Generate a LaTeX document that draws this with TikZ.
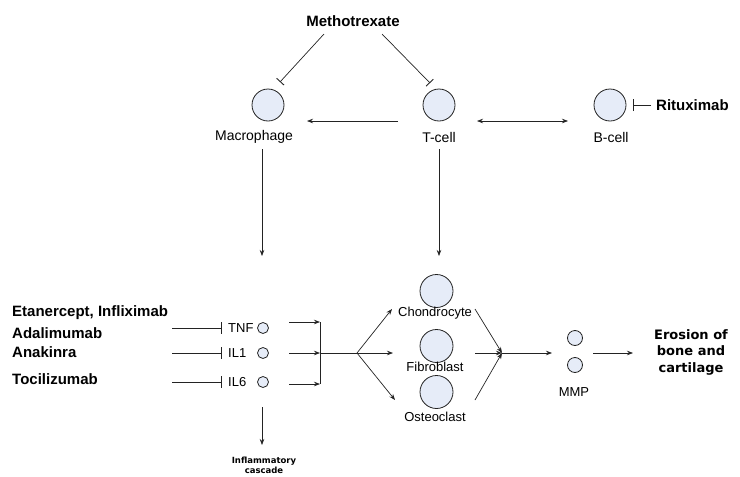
\documentclass[tikz,border=0pt]{standalone}
\usepackage{fontspec}
\setmainfont{Liberation Sans}
\newfontfamily\verdfont{DejaVu Sans}
\usetikzlibrary{arrows.meta}

\definecolor{cellfill}{RGB}{230,236,248}
\definecolor{lineclr}{RGB}{35,35,35}

\tikzset{
  cell/.style={circle,draw=lineclr,fill=cellfill,line width=0.8pt,minimum size=32pt,inner sep=0pt},
  midcell/.style={cell,minimum size=15pt},
  tinycell/.style={cell,minimum size=11pt},
  lbl/.style={inner sep=0pt,font=\fontsize{14}{16}\selectfont},
  lbllow/.style={inner sep=0pt,font=\fontsize{13}{15}\selectfont},
  drug/.style={inner sep=0pt,font=\bfseries\fontsize{15}{17}\selectfont},
  act/.style={draw=lineclr,line width=0.7pt,-{Stealth[length=6pt,width=4.5pt]}},
  blocks/.style={draw=lineclr,line width=0.7pt,-{Bar[width=12pt,line width=0.9pt]}},
  plain/.style={draw=lineclr,line width=0.7pt},
}

\begin{document}
\begin{tikzpicture}[x=1pt,y=-1pt]
    \useasboundingbox (0,0) rectangle (740,477);

    % top row
    \node[drug] (mtx) at (353,21) {Methotrexate};
    \node[cell] (mac) at (268,105) {};
    \node[cell] (tcell) at (439,105) {};
    \node[cell] (bcell) at (610,105) {};
    \node[lbl] (maclbl) at (254,137) {Macrophage};
    \node[lbl] (tlbl) at (439,137) {T-cell};
    \node[lbl] (blbl) at (611,137) {B-cell};
    \node[drug,anchor=west] (ritux) at (656,105) {Rituximab};

    % methotrexate blocks
    \coordinate (mtxL) at (324,34);
    \coordinate (mtxR) at (382,34);
    \coordinate (macTop) at (280,82);
    \coordinate (tTop) at (430,83);
    \draw[blocks,-{Bar[width=10pt,line width=0.9pt]}] (mtxL) -- (macTop);
    \draw[blocks,-{Bar[width=10pt,line width=0.9pt]}] (mtxR) -- (tTop);

    % rituximab block
    \draw[blocks,shorten <=5pt,shorten >=7pt] (ritux.west) -- (bcell.east);

    % T-cell to macrophage, T-cell to B-cell
    \coordinate (tLeft) at (398,121);
    \coordinate (macRight) at (307,121);
    \coordinate (tRight) at (477,121);
    \coordinate (bLeft) at (568,121);
    \draw[act] (tLeft) -- (macRight);
    \draw[act,{Stealth[length=6pt,width=4.5pt]}-{Stealth[length=6pt,width=4.5pt]}] (tRight) -- (bLeft);

    % downward arrows
    \coordinate (macDown) at (262,149);
    \coordinate (macEnd) at (262,256);
    \coordinate (tDown) at (439,149);
    \coordinate (tEnd) at (439,256);
    \draw[act] (macDown) -- (macEnd);
    \draw[act] (tDown) -- (tEnd);

    % drugs
    \node[drug,anchor=west] (etan) at (12,313) {Etanercept, Infliximab};
    \node[drug,anchor=west] (adal) at (12,333) {Adalimumab};
    \node[drug,anchor=west] (anak) at (12,352) {Anakinra};
    \node[drug,anchor=west] (toci) at (12,379) {Tocilizumab};

    % cytokines
    \node[lbllow,anchor=west] (tnflbl) at (228,328) {TNF};
    \node[lbllow,anchor=west] (il1lbl) at (228,353) {IL1};
    \node[lbllow,anchor=west] (il6lbl) at (228,382) {IL6};
    \node[tinycell] (tnf) at (263,328) {};
    \node[tinycell] (il1) at (263,353) {};
    \node[tinycell] (il6) at (263,382) {};

    \coordinate (tnfIn) at (172,328);
    \coordinate (il1In) at (172,353);
    \coordinate (il6In) at (172,382);
    \draw[blocks,shorten >=6pt] (tnfIn) -- (tnflbl.west);
    \draw[blocks,shorten >=6pt] (il1In) -- (il1lbl.west);
    \draw[blocks,shorten >=6pt] (il6In) -- (il6lbl.west);

    % bracket
    \coordinate (tnfOut) at (289,322);
    \coordinate (il1Out) at (289,353);
    \coordinate (il6Out) at (289,384);
    \coordinate (brTop) at (320,322);
    \coordinate (brMid) at (320,353);
    \coordinate (brBot) at (320,384);
    \draw[act] (tnfOut) -- (brTop);
    \draw[act] (il1Out) -- (brMid);
    \draw[act] (il6Out) -- (brBot);
    \draw[plain] (brTop) -- (brBot);

    % fork to tissue cells
    \coordinate (fork) at (357,353);
    \draw[plain] (brMid) -- (fork);
    \node[cell,minimum size=33pt] (chon) at (436.5,291) {};
    \node[cell,minimum size=33pt] (fib) at (436.5,346) {};
    \node[cell,minimum size=33pt] (ost) at (436.5,392) {};
    \node[lbllow] (chonlbl) at (435,313) {Chondrocyte};
    \node[lbllow] (fiblbl) at (435,367) {Fibroblast};
    \node[lbllow] (ostlbl) at (435,417) {Osteoclast};

    \coordinate (chonIn) at (392,309);
    \coordinate (fibIn) at (393,353);
    \coordinate (ostIn) at (395,400);
    \draw[act] (fork) -- (chonIn);
    \draw[act] (fork) -- (fibIn);
    \draw[act] (fork) -- (ostIn);

    % merge to MMP
    \coordinate (chonOut) at (475,309);
    \coordinate (fibOut) at (475,353);
    \coordinate (ostOut) at (475,400);
    \coordinate (merge) at (502,353);
    \draw[act] (chonOut) -- (merge);
    \draw[act] (fibOut) -- (merge);
    \draw[act] (ostOut) -- (merge);

    \node[midcell] (mmpA) at (575,338) {};
    \node[midcell] (mmpB) at (575,365) {};
    \node[lbllow] (mmplbl) at (574,392) {MMP};
    \coordinate (mmpIn) at (552,353);
    \draw[act] (merge) -- (mmpIn);

    % erosion
    \node[inner sep=0pt,align=center,font=\verdfont\bfseries\fontsize{13}{16.5}\selectfont] (eros) at (691,352) {Erosion of\\bone and\\cartilage};
    \coordinate (mmpOut) at (593,353);
    \coordinate (erosIn) at (633,353);
    \draw[act] (mmpOut) -- (erosIn);

    % inflammatory cascade
    \node[inner sep=0pt,align=center,font=\verdfont\bfseries\fontsize{8.5}{10}\selectfont] (casc) at (264,465) {Inflammatory\\cascade};
    \coordinate (cascTop) at (262,407);
    \coordinate (cascEnd) at (262,445);
    \draw[act] (cascTop) -- (cascEnd);
\end{tikzpicture}
\end{document}
